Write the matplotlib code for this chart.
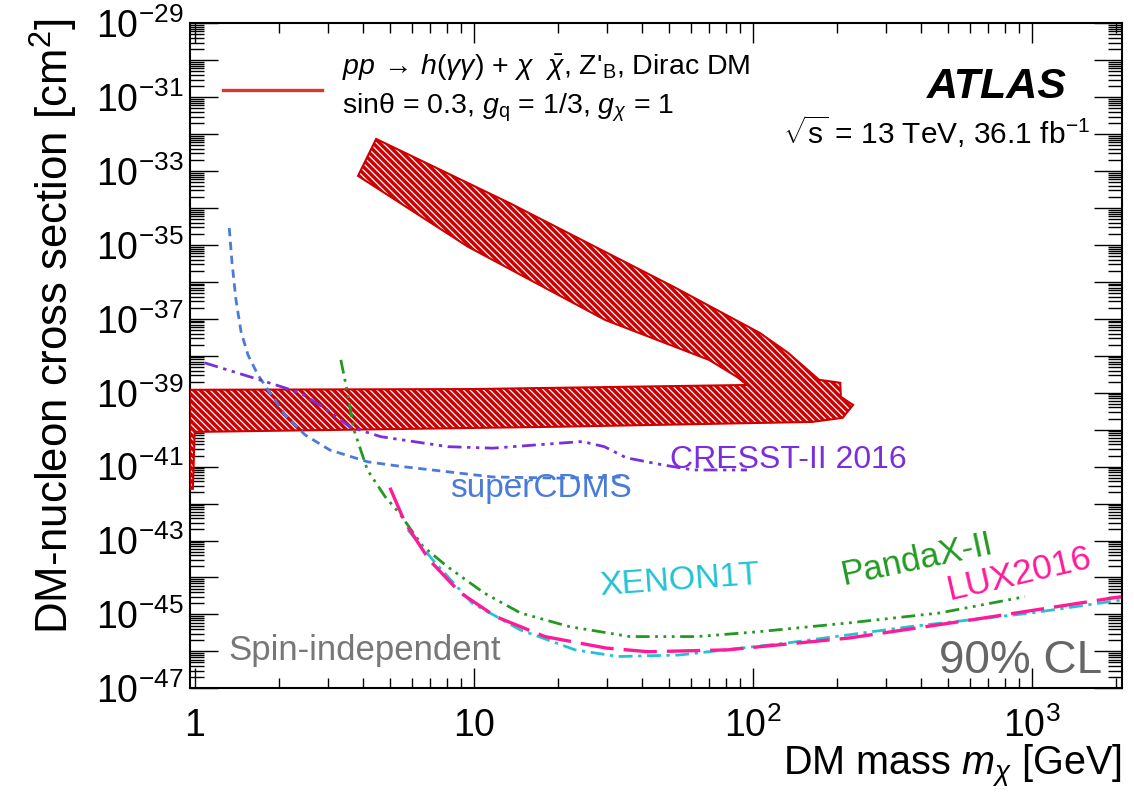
#!/usr/bin/env python3
"""DM-nucleon cross section limits vs DM mass (ATLAS h(yy)+MET, Z'_B, spin-independent)."""
import matplotlib
matplotlib.use("Agg")
import matplotlib.pyplot as plt
import numpy as np
from matplotlib.ticker import (FixedLocator, FixedFormatter, FuncFormatter,
                               LogLocator, NullFormatter)

plt.rcParams["font.family"] = ["Liberation Sans", "DejaVu Sans"]
plt.rcParams["mathtext.fontset"] = "custom"
plt.rcParams["mathtext.rm"] = "Liberation Sans"
plt.rcParams["mathtext.it"] = "Liberation Sans:italic"
plt.rcParams["mathtext.bf"] = "Liberation Sans:bold"
plt.rcParams["mathtext.fallback"] = "cm"
plt.rcParams["hatch.linewidth"] = 0.9

# ATLAS excluded region (closed outline), mass [GeV] and log10(sigma / cm^2)
BAND_MASS = [4.47, 13.4, 52.3, 106, 134, 173, 206, 207, 229, 210, 163, 20.0,
             1.0, 0.985, 0.962, 0.962, 10.0, 95.5, 87.8, 69.7, 29.6, 9.55, 3.85]
BAND_LOGXS = [-32.13, -33.86, -36.14, -37.38, -37.92, -38.65, -38.73, -39.11,
              -39.33, -39.68, -39.79, -39.92, -40.06, -41.6, -41.6, -38.92,
              -38.90, -38.79, -38.57, -38.11, -37.03, -35.05, -33.13]

CDMS_MASS = [1.33, 1.36, 1.406, 1.466, 1.553, 1.686, 1.862, 2.108, 2.486, 3.05,
             4.17, 5.57, 8.1, 11.7, 20.2, 35.0]
CDMS_LOGXS = [-34.54, -35.46, -36.49, -37.35, -37.98, -38.52, -39.0, -39.60,
              -40.14, -40.55, -40.87, -41.0, -41.14, -41.28, -41.31, -41.28]

CRESST_MASS = [1.085, 1.71, 2.39, 2.98, 3.59, 4.65, 8.09, 11.7, 16.9, 24.5,
               29.4, 35.2, 47.4, 61.1, 95.4]
CRESST_LOGXS = [-38.19, -38.65, -39.0, -39.46, -39.92, -40.19, -40.46, -40.50,
                -40.41, -40.32, -40.46, -40.76, -40.95, -41.09, -41.09]

PANDAX_MASS = [3.34, 3.53, 3.72, 4.16, 4.81, 5.40, 6.58, 8.06, 10.9, 14.7,
               22.0, 36.3, 63.1, 104.5, 221, 469, 946]
PANDAX_LOGXS = [-38.11, -39.0, -40.0, -41.09, -41.81, -42.25, -43.16, -43.71,
                -44.42, -44.96, -45.33, -45.60, -45.60, -45.47, -45.23, -44.96, -44.52]

LUX_MASS = [5.01, 5.67, 6.92, 8.94, 12.0, 18.0, 29.8, 42.2, 80.9, 221, 606, 2090]
LUX_LOGXS = [-41.57, -42.51, -43.52, -44.41, -45.06, -45.60, -45.91, -46.01,
             -45.96, -45.64, -45.15, -44.52]

XENON_MASS = [5.81, 7.29, 9.86, 14.7, 23.1, 32.9, 54.4, 134, 367, 1000, 2100]
XENON_LOGXS = [-42.71, -43.61, -44.69, -45.42, -45.96, -46.14, -46.10, -45.77,
               -45.33, -44.96, -44.61]

X_TICKS = [1, 10, 100, 1000]
X_TICKLABELS = ["$1$", "$10$", "$10^{2}$", "$10^{3}$"]

RED = "#cc0000"
BLUE = "#4a7bd8"
PURPLE = "#7b2fdc"
GREEN = "#229a22"
MAGENTA = "#ff1a9a"
CYAN = "#22c4d2"


def ylabel_fmt(v, pos):
    e = int(round(np.log10(v)))
    return f"$10^{{{e}}}$" if e % 2 else ""


def main():
    fig = plt.figure(figsize=(11.34, 7.92), dpi=100)
    ax = fig.add_axes([190 / 1134, 1 - 688.3 / 792, 931.6 / 1134, 665 / 792])
    ax.set_xscale("log")
    ax.set_yscale("log")
    ax.set_xlim(0.962, 2100)
    ax.set_ylim(1e-47, 1e-29)

    # ATLAS band: red fill, white hatching, red outline
    bx = np.array(BAND_MASS)
    by = 10.0 ** np.array(BAND_LOGXS)
    ax.fill(bx, by, facecolor=RED, edgecolor="none", zorder=2)
    ax.fill(bx, by, facecolor="none", edgecolor="white", hatch="\\\\\\\\\\",
            linewidth=0, zorder=3)
    ax.fill(bx, by, facecolor="none", edgecolor=RED, linewidth=1.5, zorder=4)

    curves = [
        (CDMS_MASS, CDMS_LOGXS, BLUE, 2.0, (3, 2)),
        (CRESST_MASS, CRESST_LOGXS, PURPLE, 2.0, (5, 2, 1.2, 2, 1.2, 2)),
        (PANDAX_MASS, PANDAX_LOGXS, GREEN, 2.0, (5, 2, 1, 2, 1, 2, 1, 2)),
        (XENON_MASS, XENON_LOGXS, CYAN, 2.0, (5, 2, 1.2, 2)),
        (LUX_MASS, LUX_LOGXS, MAGENTA, 2.4, (10, 3)),
    ]
    for m, lx, col, lw, dash in curves:
        ax.plot(m, 10.0 ** np.array(lx), color=col, lw=lw, dashes=dash, zorder=5)

    # axes and ticks
    ax.xaxis.set_major_locator(FixedLocator(X_TICKS))
    ax.xaxis.set_major_formatter(FixedFormatter(X_TICKLABELS))
    ax.xaxis.set_minor_locator(LogLocator(10, subs=np.arange(2, 10), numticks=20))
    ax.xaxis.set_minor_formatter(NullFormatter())
    ax.yaxis.set_major_locator(LogLocator(10, subs=(1.0,), numticks=40))
    ax.yaxis.set_major_formatter(FuncFormatter(ylabel_fmt))
    ax.yaxis.set_minor_locator(LogLocator(10, subs=np.arange(2, 10), numticks=40))
    ax.yaxis.set_minor_formatter(NullFormatter())
    ax.tick_params(which="both", direction="in", top=True, right=True, width=1)
    ax.tick_params(axis="x", which="major", length=14.4, labelsize=27, pad=14)
    ax.tick_params(axis="x", which="minor", length=7.2)
    ax.tick_params(axis="y", which="major", length=20, labelsize=27, pad=5)
    ax.tick_params(axis="y", which="minor", length=10)
    for s in ax.spines.values():
        s.set_linewidth(1.5)

    ax.set_xlabel(r"DM mass $m_{\chi}$ [GeV]", fontsize=28.5, loc="right")
    ax.xaxis.label.set_va("baseline")
    ax.xaxis.set_label_coords(1.0, -0.1316)
    ax.set_ylabel(r"DM-nucleon cross section [cm$^{2}$]", fontsize=31.5, loc="top")
    ax.yaxis.set_label_coords(-0.118, 1.008)

    # legend (hand placed, ROOT style)
    ax.plot([0.0354, 0.142], [0.899, 0.899], color="#dd3333", lw=2.4,
            transform=ax.transAxes, clip_on=False)
    ax.text(0.163, 0.922,
            r"$pp\,\rightarrow\,h(\gamma\gamma)$ + $\chi\ \ \bar{\chi}$, Z'$_{\rm B}$, Dirac DM",
            transform=ax.transAxes, fontsize=20.5, va="baseline")
    ax.text(0.163, 0.864, r"sinθ = 0.3, $g_{\rm q}$ = 1/3, $g_{\chi}$ = 1",
            transform=ax.transAxes, fontsize=20.5, va="baseline")

    ax.text(0.941, 0.888, "ATLAS", transform=ax.transAxes, fontsize=31,
            fontweight="bold", fontstyle="italic", ha="right", va="baseline")
    ax.text(0.966, 0.8186, r"$\sqrt{\rm s}$ = 13 TeV, 36.1 fb$^{-1}$",
            transform=ax.transAxes, fontsize=21.5, ha="right", va="baseline")

    ax.text(0.0408, 0.0425, "Spin-independent", transform=ax.transAxes,
            fontsize=25, color="#777777", va="baseline")
    ax.text(0.9786, 0.023, "90% CL", transform=ax.transAxes, fontsize=33,
            color="#666666", ha="right", va="baseline")

    ax.text(0.515, 0.331, "CRESST-II 2016", transform=ax.transAxes,
            fontsize=23, color=PURPLE, va="baseline")
    ax.text(0.279, 0.288, "superCDMS", transform=ax.transAxes,
            fontsize=24, color=BLUE, va="baseline")
    ax.text(0.44, 0.140, "XENON1T", transform=ax.transAxes, fontsize=24.5,
            color=CYAN, va="baseline", rotation=4, rotation_mode="anchor")
    ax.text(0.701, 0.156, "PandaX-II", transform=ax.transAxes, fontsize=25,
            color=GREEN, va="baseline", rotation=12, rotation_mode="anchor")
    ax.text(0.815, 0.133, "LUX2016", transform=ax.transAxes, fontsize=25.5,
            color=MAGENTA, va="baseline", rotation=13, rotation_mode="anchor")

    fig.savefig("out.png", dpi=100)
    plt.close(fig)


if __name__ == "__main__":
    main()
